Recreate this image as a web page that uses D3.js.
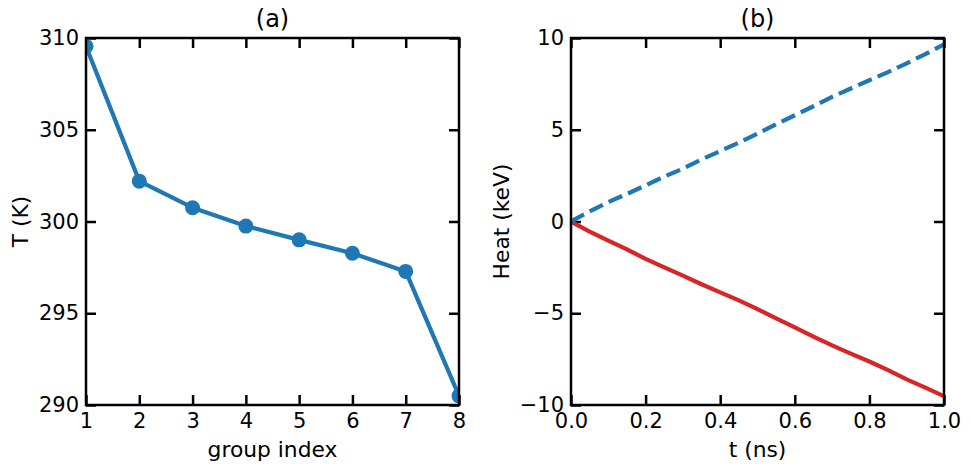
<!DOCTYPE html>
<html><head><meta charset="utf-8">
<script src="https://cdn.jsdelivr.net/npm/d3@7"></script>
<style>body{margin:0;background:#fff}svg{display:block}text{font-family:"DejaVu Sans",sans-serif;fill:#000}</style>
</head><body><svg id="c" width="971" height="471"></svg>
<script>
// Panel (a)
const groupIndex = [1, 2, 3, 4, 5, 6, 7, 8];
const temperature = [309.55, 302.2, 300.75, 299.75, 299.0, 298.27, 297.28, 290.5];
const aXTicks = [1, 2, 3, 4, 5, 6, 7, 8];
const aYTicks = [290, 295, 300, 305, 310];
// Panel (b)
const time = [0, 0.05, 0.1, 0.15, 0.2, 0.25, 0.3, 0.35, 0.4, 0.45, 0.5, 0.55, 0.6, 0.65, 0.7, 0.75, 0.8, 0.85, 0.9, 0.95, 1.0];
const heatBlue = [0, 0.55, 1.06, 1.5, 1.97, 2.45, 2.88, 3.38, 3.84, 4.3, 4.79, 5.3, 5.79, 6.28, 6.79, 7.25, 7.7, 8.14, 8.62, 9.12, 9.65];
const heatRed = [0, -0.55, -1.04, -1.52, -2.04, -2.5, -2.95, -3.42, -3.86, -4.3, -4.77, -5.28, -5.77, -6.27, -6.75, -7.2, -7.63, -8.1, -8.6, -9.05, -9.52];
const bXTicks = [0, 0.2, 0.4, 0.6, 0.8, 1.0];
const bYTicks = [-10, -5, 0, 5, 10];

const svg = d3.select("#c");
const plotTop = 38, plotBottom = 405;
const fmtMinus = s => String(s).replace("-", "\u2212");

function panel(opts) {
  const {left, right, xDomain, yDomain, xTicks, yTicks, xFmt, yFmt, title, xLabel, yLabel, yLabelX, id} = opts;
  const x = d3.scaleLinear().domain(xDomain).range([left, right]);
  const y = d3.scaleLinear().domain(yDomain).range([plotBottom, plotTop]);
  const g = svg.append("g");
  svg.append("clipPath").attr("id", id).append("rect")
    .attr("x", left).attr("y", plotTop).attr("width", right - left).attr("height", plotBottom - plotTop);
  const tl = 10, fs = "21px";
  const styleAxis = sel => {
    sel.attr("font-family", null).attr("font-size", null);
    sel.select(".domain").remove();
    sel.selectAll(".tick line").attr("stroke", "#000").attr("stroke-width", 2.5);
    sel.selectAll(".tick text").style("font-size", fs).attr("fill", "#000");
  };
  g.append("g").attr("transform", `translate(0,${plotBottom})`)
    .call(d3.axisBottom(x).tickValues(xTicks).tickFormat(xFmt).tickSize(-tl).tickPadding(8))
    .call(styleAxis);
  g.append("g").attr("transform", `translate(0,${plotTop})`)
    .call(d3.axisTop(x).tickValues(xTicks).tickFormat("").tickSize(-tl))
    .call(styleAxis);
  g.append("g").attr("transform", `translate(${left},0)`)
    .call(d3.axisLeft(y).tickValues(yTicks).tickFormat(yFmt).tickSize(-tl).tickPadding(7))
    .call(styleAxis);
  g.append("g").attr("transform", `translate(${right},0)`)
    .call(d3.axisRight(y).tickValues(yTicks).tickFormat("").tickSize(-tl))
    .call(styleAxis);
  g.append("text").attr("x", (left + right) / 2).attr("y", 27).attr("text-anchor", "middle")
    .style("font-size", "24px").text(title);
  g.append("text").attr("x", (left + right) / 2).attr("y", 457).attr("text-anchor", "middle")
    .style("font-size", "21.8px").text(xLabel);
  g.append("text").attr("transform", `translate(${yLabelX},${(plotTop + plotBottom) / 2}) rotate(-90)`)
    .attr("text-anchor", "middle").attr("dy", "0.35em").style("font-size", "21.8px").text(yLabel);
  const plot = svg.append("g").attr("clip-path", `url(#${id})`);
  return {x, y, plot, frame: () => svg.append("rect").attr("x", left).attr("y", plotTop)
    .attr("width", right - left).attr("height", plotBottom - plotTop)
    .attr("fill", "none").attr("stroke", "#000").attr("stroke-width", 2.5)};
}

// Panel (a)
const A = panel({left: 86, right: 459, xDomain: [1, 8], yDomain: [290, 310], xTicks: aXTicks, yTicks: aYTicks,
  xFmt: d3.format("d"), yFmt: d3.format("d"), title: "(a)", xLabel: "group index", yLabel: "T (K)", yLabelX: 20, id: "ca"});
const dA = groupIndex.map((g, i) => [g, temperature[i]]);
A.plot.append("path").datum(dA).attr("fill", "none").attr("stroke", "#1f77b4").attr("stroke-width", 4.2)
  .attr("stroke-linejoin", "round")
  .attr("d", d3.line().x(d => A.x(d[0])).y(d => A.y(d[1])));
A.plot.selectAll("circle").data(dA).join("circle").attr("cx", d => A.x(d[0])).attr("cy", d => A.y(d[1]))
  .attr("r", 7.5).attr("fill", "#1f77b4");
A.frame();

// Panel (b)
const B = panel({left: 571, right: 944, xDomain: [0, 1], yDomain: [-10, 10], xTicks: bXTicks, yTicks: bYTicks,
  xFmt: d3.format(".1f"), yFmt: d => fmtMinus(d), title: "(b)", xLabel: "t (ns)", yLabel: "Heat (keV)", yLabelX: 501, id: "cb"});
const line = d3.line().x(d => B.x(d[0])).y(d => B.y(d[1]));
B.plot.append("path").datum(time.map((t, i) => [t, heatRed[i]])).attr("fill", "none")
  .attr("stroke", "#d62728").attr("stroke-width", 4.2).attr("d", line);
B.plot.append("path").datum(time.map((t, i) => [t, heatBlue[i]])).attr("fill", "none")
  .attr("stroke", "#1f77b4").attr("stroke-width", 4.2).attr("stroke-dasharray", "14.8,6.4").attr("d", line);
B.frame();
</script></body></html>
